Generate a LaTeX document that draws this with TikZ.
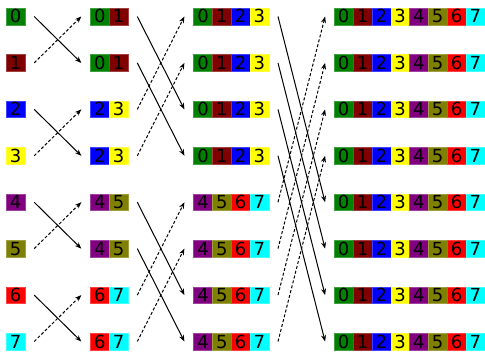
\documentclass[tikz,border=0pt]{standalone}
\usepackage{fontspec}
\setmainfont{DejaVu Sans}
\usetikzlibrary{arrows.meta}
% one colour per value 0..7
\definecolor{d0}{RGB}{0,128,0}
\definecolor{d1}{RGB}{128,0,0}
\definecolor{d2}{RGB}{0,0,255}
\definecolor{d3}{RGB}{255,255,0}
\definecolor{d4}{RGB}{128,0,128}
\definecolor{d5}{RGB}{128,128,0}
\definecolor{d6}{RGB}{255,0,0}
\definecolor{d7}{RGB}{0,255,255}
\begin{document}
\begin{tikzpicture}[x=1pt,y=-1pt,
  cell/.style={fill=#1, draw=#1!75!white, line width=0.4pt,
    minimum width=18.8pt, minimum height=16.6pt, inner sep=0pt,
    anchor=north west, font=\fontsize{18}{18}\selectfont,
    text height=13pt, text depth=0pt},
  link/.style={-{Stealth[length=6.5pt,width=5pt]}, line width=1pt},
  back/.style={link, dash pattern=on 3pt off 2pt}]
\useasboundingbox (0,0) rectangle (485,352);
\def\cs{18.8}
% blocks: single values, pairs, quadruples, full rows
\foreach \k in {0,...,7}{
  \pgfmathsetmacro\ty{8+46.43*\k}
  \node[cell=d\k] (n-0-\k-0) at (6,\ty) {\k};
  \pgfmathtruncatemacro\a{2*floor(\k/2)}
  \foreach \j in {0,1}{
    \pgfmathtruncatemacro\d{\a+\j}
    \node[cell=d\d] (n-1-\k-\j) at ({90.3+\cs*\j},\ty) {\d};
  }
  \pgfmathtruncatemacro\b{4*floor(\k/4)}
  \foreach \j in {0,...,3}{
    \pgfmathtruncatemacro\d{\b+\j}
    \node[cell=d\d] (n-2-\k-\j) at ({193.4+\cs*\j},\ty) {\d};
  }
  \foreach \j in {0,...,7}{
    \node[cell=d\j] (n-3-\k-\j) at ({334.1+\cs*\j},\ty) {\j};
  }
}
% exchange steps: solid goes down, dashed goes up;
% each arrow keeps a 9pt horizontal gap to both blocks
\foreach \k in {0,...,7}{
  \pgfmathtruncatemacro\p{mod(\k,2)}
  \pgfmathtruncatemacro\t{\k+1-2*\p}
  \ifnum\p=0
    \draw[link] ([xshift=9pt]n-0-\k-0.east) -- ([xshift=-9pt]n-1-\t-0.west);
  \else
    \draw[back] ([xshift=9pt]n-0-\k-0.east) -- ([xshift=-9pt]n-1-\t-0.west);
  \fi
  \pgfmathtruncatemacro\m{mod(\k,4)}
  \ifnum\m<2
    \pgfmathtruncatemacro\t{\k+2}
    \draw[link] ([xshift=9pt]n-1-\k-1.east) -- ([xshift=-9pt]n-2-\t-0.west);
  \else
    \pgfmathtruncatemacro\t{\k-2}
    \draw[back] ([xshift=9pt]n-1-\k-1.east) -- ([xshift=-9pt]n-2-\t-0.west);
  \fi
  \ifnum\k<4
    \pgfmathtruncatemacro\t{\k+4}
    \draw[link] ([xshift=9pt]n-2-\k-3.east) -- ([xshift=-9pt]n-3-\t-0.west);
  \else
    \pgfmathtruncatemacro\t{\k-4}
    \draw[back] ([xshift=9pt]n-2-\k-3.east) -- ([xshift=-9pt]n-3-\t-0.west);
  \fi
}
\end{tikzpicture}
\end{document}
